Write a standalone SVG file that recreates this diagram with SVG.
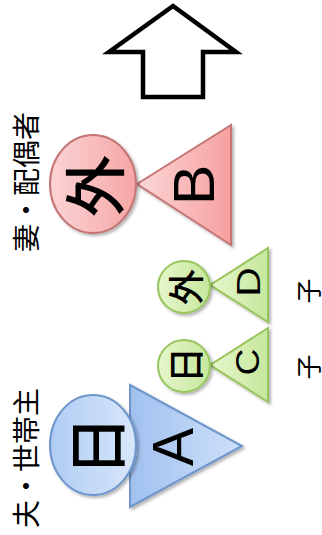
<svg xmlns="http://www.w3.org/2000/svg" width="322" height="535" viewBox="0 0 322 535">
<defs>
<linearGradient id="gPinkT" x1="0" y1="0" x2="1" y2="0"><stop offset="0" stop-color="#fbd6d6"/><stop offset="1" stop-color="#f7a0a0"/></linearGradient>
<linearGradient id="gPinkC" x1="0" y1="0" x2="1" y2="0"><stop offset="0" stop-color="#fbd4d4"/><stop offset="1" stop-color="#f6a6a6"/></linearGradient>
<linearGradient id="gBlueT" x1="0" y1="0" x2="1" y2="0"><stop offset="0" stop-color="#a0c0ef"/><stop offset="1" stop-color="#cfe1f9"/></linearGradient>
<linearGradient id="gBlueC" x1="0" y1="0" x2="1" y2="0"><stop offset="0" stop-color="#b0ccf3"/><stop offset="1" stop-color="#d8e7fb"/></linearGradient>
<linearGradient id="gGreen" x1="0" y1="0" x2="1" y2="0"><stop offset="0" stop-color="#e6f6cc"/><stop offset="1" stop-color="#c6e79c"/></linearGradient>
<filter id="sh" x="-20%" y="-20%" width="150%" height="150%"><feDropShadow dx="2" dy="2" stdDeviation="1.8" flood-color="#000" flood-opacity="0.3"/></filter>
</defs>
<style>
.lbl{font-family:"Liberation Sans","Noto Sans CJK JP",sans-serif;fill:#000;text-anchor:middle;dominant-baseline:central}
.cj{font-family:"Noto Sans CJK JP",sans-serif;font-weight:500}
.pink{stroke:#c47474;stroke-width:2}
.blue{stroke:#6e96cc;stroke-width:2}
.green{stroke:#98c45c;stroke-width:2}
</style>
<g id="arrow">
<polygon points="173,6 109,52 143,52 143,97 203,97 203,52 236,52" fill="#fff" stroke="#000" stroke-width="4.5" stroke-linejoin="miter"/>
</g>
<g id="connectors"></g>
<g id="nodeB">
<polygon points="137,184 231,125 231,245" fill="url(#gPinkT)" class="pink" filter="url(#sh)"/>
<text class="lbl" font-size="58" transform="translate(194,185) rotate(-90) scale(1.05,1)">B</text>
</g>
<g id="nodeGai1">
<ellipse cx="93" cy="184" rx="43" ry="49" fill="url(#gPinkC)" class="pink" filter="url(#sh)"/>
<text class="lbl cj" font-size="62" transform="translate(92,186) rotate(-90)">外</text>
</g>
<g id="nodeD">
<polygon points="210,285 268,248 268,322" fill="url(#gGreen)" class="green" filter="url(#sh)"/>
<text class="lbl" font-size="34" transform="translate(248,282) rotate(-90) scale(1.2,1)">D</text>
</g>
<g id="nodeGai2">
<circle cx="184" cy="287" r="26" fill="url(#gGreen)" class="green" filter="url(#sh)"/>
<text class="lbl cj" font-size="36" transform="translate(184,287) rotate(-90)">外</text>
</g>
<g id="nodeC">
<polygon points="210,365 268,328 268,402" fill="url(#gGreen)" class="green" filter="url(#sh)"/>
<text class="lbl" font-size="34" transform="translate(248,362) rotate(-90) scale(1.1,1)">C</text>
</g>
<g id="nodeNichi2">
<circle cx="184" cy="366" r="26" fill="url(#gGreen)" class="green" filter="url(#sh)"/>
<text class="lbl cj" font-size="36" transform="translate(184,365) rotate(-90)">日</text>
</g>
<g id="nodeA">
<polygon points="130,385 242,446 130,507" fill="url(#gBlueT)" class="blue" filter="url(#sh)"/>
<text class="lbl" font-size="57" transform="translate(173,447) rotate(-90)">A</text>
</g>
<g id="nodeNichi1">
<ellipse cx="93" cy="445" rx="43" ry="50" fill="url(#gBlueC)" class="blue" filter="url(#sh)"/>
<text class="lbl cj" font-size="60" transform="translate(93,446) rotate(-90)">日</text>
</g>
<g id="labels">
<text class="lbl" font-size="28" transform="translate(27,182) rotate(-90)">妻・配偶者</text>
<text class="lbl" font-size="28" transform="translate(27,458) rotate(-90)">夫・世帯主</text>
<text class="lbl" font-size="25" transform="translate(309,291) rotate(-90)">子</text>
<text class="lbl" font-size="25" transform="translate(309,367) rotate(-90)">子</text>
</g>
</svg>
